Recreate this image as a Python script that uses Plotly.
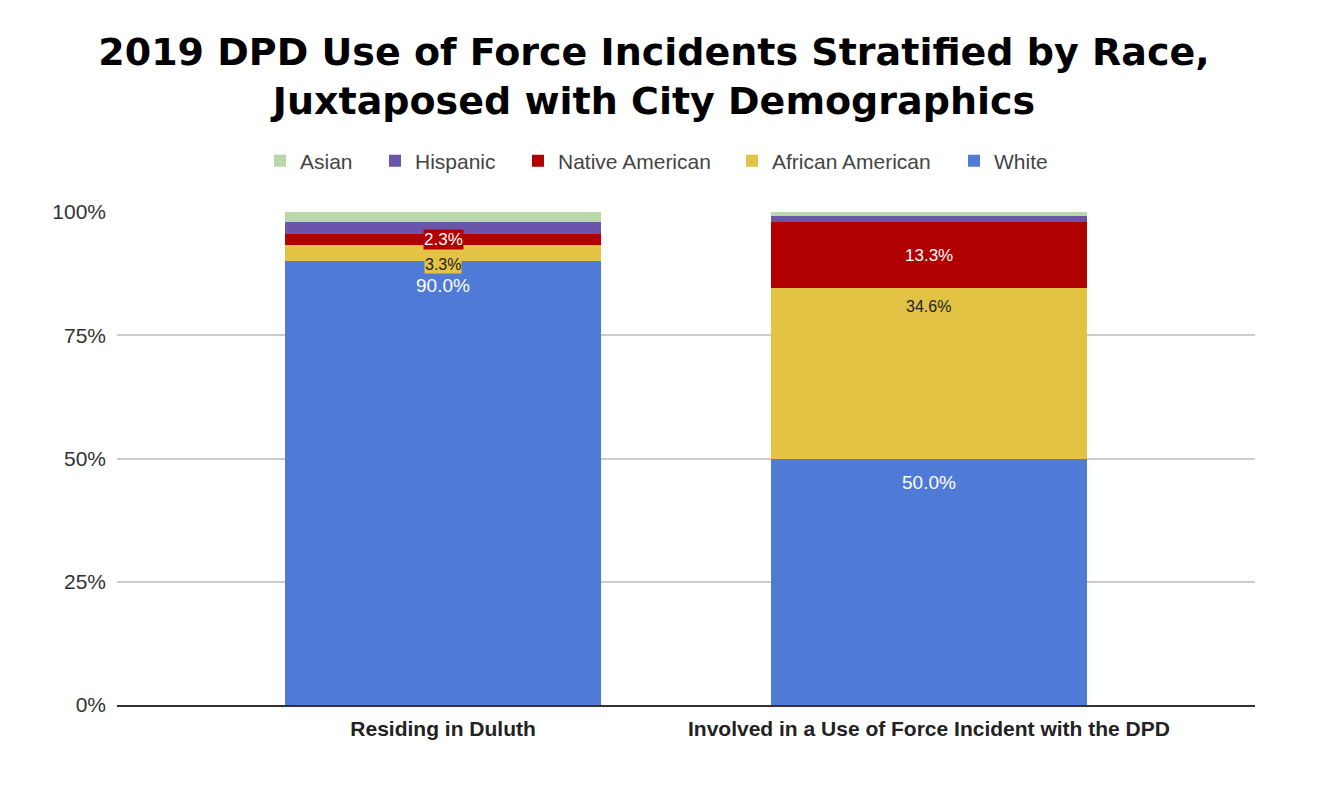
import plotly.graph_objects as go

categories = ["Residing in Duluth", "Involved in a Use of Force Incident with the DPD"]
series_names = ["White", "African American", "Native American", "Hispanic", "Asian"]
white = [90.0, 50.0]
african_american = [3.3, 34.6]
native_american = [2.3, 13.3]
hispanic = [2.3, 1.3]
asian = [2.1, 0.8]
y_ticks = [0, 25, 50, 75, 100]
y_tick_labels = ["0%", "25%", "50%", "75%", "100%"]

values = {
    "White": white,
    "African American": african_american,
    "Native American": native_american,
    "Hispanic": hispanic,
    "Asian": asian,
}
colors = {
    "White": "#4f7ad6",
    "African American": "#e3c344",
    "Native American": "#b00000",
    "Hispanic": "#6a55aa",
    "Asian": "#b9d8aa",
}
show_label = {"White": True, "African American": True, "Native American": True,
              "Hispanic": False, "Asian": False}
label_style = {
    "White": dict(size=19, color="white", mode="top", shift=-24),
    "African American": dict(size=16, color="#222222", mode="top", shift=-19),
    "Native American": dict(size=17, color="white", mode="center", shift=0),
}
# legend entry left edges (figure pixels), legend order left->right
legend_order = ["Asian", "Hispanic", "Native American", "African American", "White"]
legend_px = [252, 367, 510, 724, 946]

FONT = "Liberation Sans, Arial, sans-serif"
TITLE_FONT = "DejaVu Sans, Verdana, sans-serif"
L, R, T, B = 109, 94, 204, 109
W, H = 1341, 806
plot_w = W - L - R

fig = go.Figure()
for name in series_names:
    k = legend_order.index(name)
    fig.add_trace(go.Bar(
        x=categories, y=values[name], name=name,
        marker=dict(color=colors[name], line=dict(width=0)),
        width=0.65, hoverinfo="x+y+name",
        legend="legend" if k == 0 else f"legend{k + 1}",
    ))

annotations = []
cum = [0.0] * len(categories)
for name in series_names:
    for i, cat in enumerate(categories):
        v = values[name][i]
        bottom = cum[i]
        top = bottom + v
        if show_label[name]:
            st = label_style[name]
            ypos = top if st["mode"] == "top" else (bottom + top) / 2
            small = v < 5
            annotations.append(dict(
                x=cat, y=ypos, xref="x", yref="y", yshift=st["shift"],
                text=f"{v:.1f}%", showarrow=False, yanchor="middle",
                font=dict(family=FONT, size=st["size"], color=st["color"]),
                bgcolor=colors[name] if small else None,
                borderpad=0,
            ))
        cum[i] = top

legends = {}
for k, px in enumerate(legend_px):
    key = "legend" if k == 0 else f"legend{k + 1}"
    legends[key] = dict(
        orientation="h", x=(px - L) / plot_w, xanchor="left",
        y=1.103, yanchor="middle",
        font=dict(family=FONT, size=21, color="#444444"),
        itemwidth=30, bgcolor="rgba(0,0,0,0)",
    )

fig.update_layout(
    width=W, height=H,
    barmode="stack",
    paper_bgcolor="white", plot_bgcolor="white",
    margin=dict(l=L, r=R, t=T, b=B, autoexpand=False),
    title=dict(
        text="<b>2019 DPD Use of Force Incidents Stratified by Race,<br>Juxtaposed with City Demographics</b>",
        x=0.4817, xanchor="center", y=1 - 57 / H, yanchor="top", yref="container",
        font=dict(family=TITLE_FONT, size=38, color="#000000"),
    ),
    xaxis=dict(
        type="category", range=[-0.671, 1.671], automargin=False, tickangle=0,
        showgrid=False, showline=True, linecolor="#333333", linewidth=1.5,
        ticks="", tickfont=dict(family=FONT, size=21, color="#222222"),
        tickprefix="<b>", ticksuffix="</b>", ticklabelstandoff=4,
    ),
    yaxis=dict(
        range=[0, 100], tickvals=y_ticks, ticktext=y_tick_labels, automargin=False,
        showgrid=True, gridcolor="#cccccc", gridwidth=1.5,
        zeroline=False, showline=False, ticks="",
        tickfont=dict(family=FONT, size=21, color="#333333"),
        ticklabelstandoff=10,
    ),
    annotations=annotations,
    showlegend=True,
    **legends,
)

fig.write_html("out.html")
